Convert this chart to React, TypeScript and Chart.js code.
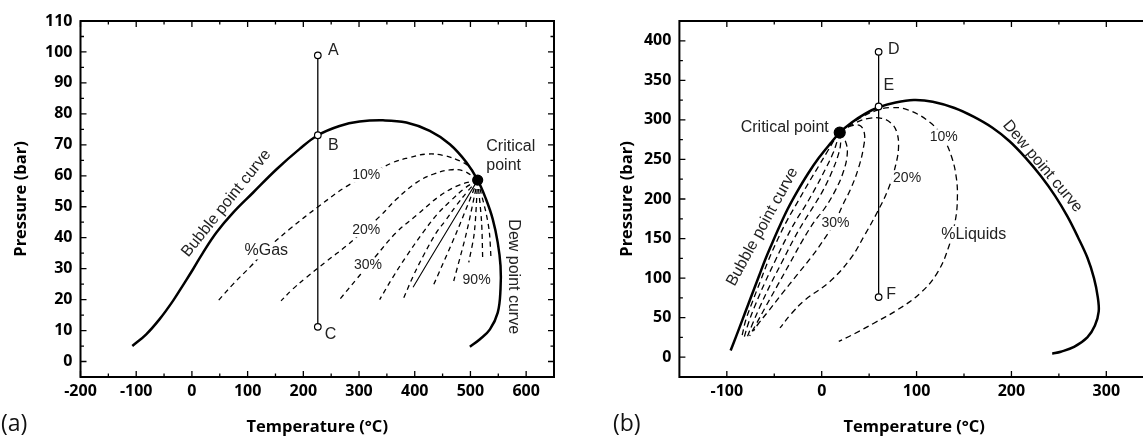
import React, { useEffect, useRef } from "react";
import { Chart, registerables } from "chart.js";
Chart.register(...registerables);

type Pt = [number, number];

// ---------- Panel (a) data ----------
const A_X_TICKS = [-200, -100, 0, 100, 200, 300, 400, 500, 600];
const A_X_MINOR = [-150, -50, 50, 150, 250, 350, 450, 550];
const A_Y_TICKS = [0, 10, 20, 30, 40, 50, 60, 70, 80, 90, 100, 110];
const A_Y_MINOR = [5, 15, 25, 35, 45, 55, 65, 75, 85, 95, 105];

const A_ENVELOPE: Pt[] = [[-107, 5], [-82, 8.8], [-58, 13.7], [-34, 19.6], [-13, 25.5], [2, 29.8], [20, 35.2], [44, 41.7], [74, 48.1], [110, 54.6], [152, 62.1], [193, 68.6], [226, 73.1], [265, 76.1], [301, 77.5], [343, 77.9], [385, 77.2], [427, 74.5], [463, 70.2], [493, 64.3], [513, 58.6], [528, 52.4], [540, 46], [549, 38.4], [554, 30.9], [554, 23.4], [549, 15.8], [535, 10.4], [517, 7.2], [499, 4.8]];
const A_Q10: Pt[] = [[513, 58.6], [499, 62.7], [481, 64.8], [451, 66.6], [421, 67], [391, 65.9], [361, 64.3], [313, 59.8], [277, 56.5], [229, 50.3], [175, 42.7], [133, 36], [107, 31], [74, 25], [47, 19.6]];
const A_Q20: Pt[] = [[513, 58.6], [487, 61.6], [463, 61.9], [433, 60.5], [403, 57.8], [367, 52.4], [338, 47], [313, 43], [277, 37.3], [241, 32.3], [205, 27.1], [181, 23.4], [160, 19.6]];
const A_Q30: Pt[] = [[513, 58.6], [480, 57], [445, 53.5], [405, 47.5], [367, 41.7], [330, 34], [295, 26.5], [265, 20]];
const A_Q40: Pt[] = [[513, 58.6], [490, 56], [465, 52], [440, 47.5], [415, 41.7], [385, 34], [360, 27], [337, 20]];
const A_Q50: Pt[] = [[513, 58.6], [495, 55], [475, 50.5], [455, 45.5], [439, 41.7], [415, 34], [397, 27.5], [379, 20]];
const A_Q60: Pt[] = [[513, 58.6], [456, 41.7], [397, 24]];
const A_Q70: Pt[] = [[513, 58.6], [475, 41.7], [433, 24.4]];
const A_Q80: Pt[] = [[513, 58.6], [493, 41.7], [470, 26]];
const A_Q90: Pt[] = [[513, 58.6], [507, 41.7], [497, 32]];
const A_Q95: Pt[] = [[513, 58.6], [520, 45], [522, 33]];
const A_Q99: Pt[] = [[513, 58.6], [528, 48], [534, 41.7], [537, 33]];
const A_PATH: Pt[] = [[226, 98.9], [226, 11.2]];
const A_OPEN_POINTS: Pt[] = [[226, 98.9], [226, 73.1], [226, 11.2]];
const A_CRITICAL: Pt[] = [[513, 58.6]];

// ---------- Panel (b) data ----------
const B_X_TICKS = [-100, 0, 100, 200, 300];
const B_X_MINOR = [-50, 50, 150, 250];
const B_Y_TICKS = [0, 50, 100, 150, 200, 250, 300, 350, 400];
const B_Y_MINOR = [25, 75, 125, 175, 225, 275, 325, 375];

const B_ENVELOPE: Pt[] = [[-96, 8.5], [-90, 27], [-84, 46], [-78, 65], [-72, 84], [-66, 103], [-60, 122], [-53, 142], [-45, 164], [-36, 187], [-26, 209], [-15, 231], [-3, 252], [9, 270], [19, 284], [32, 297], [46, 308], [60, 316], [78, 322], [97, 325], [117, 323], [140, 315], [160, 304], [180, 290], [198, 273], [215, 252], [231, 229], [246, 204], [259, 178], [270, 152], [280, 126], [287, 100], [291, 76], [292, 58], [288, 40], [280, 25], [266, 13], [252, 7], [243, 4.5]];
const B_Q10: Pt[] = [[19, 284], [40, 302], [58, 312], [72, 315.5], [90, 313], [114, 297], [128, 277], [137, 253], [142, 226], [143, 200], [141, 174], [134, 140], [122, 107], [104, 81], [80, 60], [55, 43], [35, 30], [18, 20]];
const B_Q20: Pt[] = [[19, 284], [35, 296], [50, 302], [63, 302], [73, 296], [79, 285], [81, 266], [78, 243], [70, 212], [58, 182], [46, 156], [30, 124], [8, 95], [-18, 72], [-32, 55], [-44, 37]];
const B_Q30: Pt[] = [[19, 284], [30, 292], [40, 293], [45, 283], [44, 265], [39, 240], [31, 214], [22, 192], [14, 171], [3, 150], [-10, 128], [-26, 104], [-42, 80], [-57, 57], [-67, 42], [-72, 33]];
const B_Q40: Pt[] = [[19, 284], [25, 273], [27, 258], [23, 235], [14, 210], [3, 188], [-8, 171], [-20, 148], [-33, 120], [-46, 92], [-59, 64], [-69, 42], [-76, 27]];
const B_Q50: Pt[] = [[19, 284], [20, 272], [18, 258], [11, 235], [1, 210], [-9, 190], [-19, 171], [-30, 148], [-42, 120], [-54, 92], [-65, 64], [-73, 42], [-79, 24]];
const B_Q60: Pt[] = [[19, 284], [16, 272], [12, 258], [4, 238], [-6, 215], [-17, 192], [-27, 173], [-38, 149], [-49, 122], [-60, 94], [-70, 66], [-77, 44], [-82, 24]];
const B_Q70: Pt[] = [[19, 284], [13, 274], [6, 260], [-3, 242], [-14, 220], [-25, 197], [-36, 174], [-46, 150], [-56, 123], [-65, 95], [-74, 67], [-80, 47], [-84, 27]];
const B_PATH: Pt[] = [[60, 386], [60, 76]];
const B_OPEN_POINTS: Pt[] = [[60, 386], [60, 317], [60, 76]];
const B_CRITICAL: Pt[] = [[19, 284]];

// ---------- annotation text (data coordinates) ----------
type Label = { text: string; x: number; y: number; size: number; rot?: number; align?: CanvasTextAlign; box?: boolean };
const A_LABELS: Label[] = [
  { text: "A", x: 254, y: 100.3, size: 16 },
  { text: "B", x: 254, y: 69.6, size: 16 },
  { text: "C", x: 249, y: 8.8, size: 16 },
  { text: "Critical", x: 528.5, y: 69.4, size: 16, align: "left" },
  { text: "point", x: 528.5, y: 63.4, size: 16, align: "left" },
  { text: "10%", x: 313, y: 60.2, size: 14, box: true },
  { text: "20%", x: 313, y: 42.6, size: 14, box: true },
  { text: "30%", x: 316, y: 31, size: 14, box: true },
  { text: "90%", x: 511, y: 26.3, size: 14, box: true },
  { text: "%Gas", x: 133.5, y: 35.8, size: 16, box: true },
  { text: "Bubble point curve", x: 61.8, y: 51.1, size: 16, rot: -51.3 },
  { text: "Dew point curve", x: 577.6, y: 27.4, size: 16, rot: 90 },
];
const B_LABELS: Label[] = [
  { text: "D", x: 76, y: 388.6, size: 16 },
  { text: "E", x: 70.7, y: 343.2, size: 16 },
  { text: "F", x: 73.3, y: 79.3, size: 16 },
  { text: "Critical point", x: -39, y: 290.5, size: 16 },
  { text: "10%", x: 128.7, y: 278.4, size: 14, box: true },
  { text: "20%", x: 90, y: 226.6, size: 14, box: true },
  { text: "30%", x: 14.6, y: 169.8, size: 14, box: true },
  { text: "%Liquids", x: 160.2, y: 155, size: 16, box: true },
  { text: "Bubble point curve", x: -62.5, y: 164.8, size: 16, rot: -61.3 },
  { text: "Dew point curve", x: 232.8, y: 241.3, size: 16, rot: 50 },
];

const AXIS_FONT = '"Open Sans", "DejaVu Sans", sans-serif';
const TEXT_FONT = '"Liberation Sans", Arial, sans-serif';

const toXY = (pts: Pt[]) => pts.map(([x, y]) => ({ x, y }));

function lineDs(pts: Pt[], width: number, dash: number[] = [], tension = 0.4) {
  return {
    data: toXY(pts), showLine: true, pointRadius: 0, borderColor: "#000", borderWidth: width,
    borderDash: dash, tension, fill: false, order: 1, borderCapStyle: "butt",
  };
}
function pointDs(pts: Pt[], r: number, fill: string) {
  return {
    data: toXY(pts), showLine: false, pointRadius: r, pointBackgroundColor: fill,
    pointBorderColor: "#000", pointBorderWidth: 1.2, order: 0,
  };
}

function framePlugin(xMaj: number[], xMin: number[], yMaj: number[], yMin: number[]) {
  return {
    id: "frame",
    afterDatasetsDraw(chart: any) {
      const { ctx, chartArea } = chart;
      const { left, right, top, bottom } = chartArea;
      const xs = chart.scales.x, ys = chart.scales.y;
      ctx.save();
      ctx.strokeStyle = "#000";
      ctx.lineWidth = 1.3;
      ctx.beginPath();
      const tx = (v: number, len: number) => {
        const p = xs.getPixelForValue(v);
        ctx.moveTo(p, bottom); ctx.lineTo(p, bottom - len);
        ctx.moveTo(p, top); ctx.lineTo(p, top + len);
      };
      const ty = (v: number, len: number) => {
        const p = ys.getPixelForValue(v);
        ctx.moveTo(left, p); ctx.lineTo(left + len, p);
        ctx.moveTo(right, p); ctx.lineTo(right - len, p);
      };
      xMaj.forEach((v) => tx(v, 6));
      xMin.forEach((v) => tx(v, 3.5));
      yMaj.forEach((v) => ty(v, 6));
      yMin.forEach((v) => ty(v, 3.5));
      ctx.stroke();
      ctx.lineWidth = 2;
      ctx.strokeRect(left, top, right - left, bottom - top);
      ctx.restore();
    },
  };
}

function labelPlugin(labels: Label[], tag: string, tagX: number) {
  return {
    id: "labels",
    afterDatasetsDraw(chart: any) {
      const { ctx } = chart;
      const xs = chart.scales.x, ys = chart.scales.y;
      for (const l of labels) {
        const px = xs.getPixelForValue(l.x), py = ys.getPixelForValue(l.y);
        ctx.save();
        ctx.translate(px, py);
        if (l.rot) ctx.rotate((l.rot * Math.PI) / 180);
        ctx.font = `${l.size}px ${TEXT_FONT}`;
        ctx.textAlign = l.align || "center";
        ctx.textBaseline = "middle";
        if (l.box) {
          const w = ctx.measureText(l.text).width;
          ctx.fillStyle = "#fff";
          ctx.fillRect(-w / 2 - 2, -l.size * 0.55, w + 4, l.size * 1.1);
        }
        ctx.fillStyle = "#222";
        ctx.fillText(l.text, 0, 0);
        ctx.restore();
      }
      ctx.save();
      ctx.font = `23px ${AXIS_FONT}`;
      ctx.fillStyle = "#111";
      ctx.textAlign = "left";
      ctx.textBaseline = "middle";
      ctx.fillText(tag, tagX, 424);
      ctx.restore();
    },
  };
}

function axisCfg(min: number, max: number, ticks: number[], fit: (s: any) => void, title: string, titlePad: any, tickPad: number) {
  return {
    type: "linear", min, max,
    grid: { display: false, drawTicks: false, tickLength: 0 },
    border: { display: false },
    ticks: { font: { family: AXIS_FONT, size: 16, weight: "bold" }, color: "#000", padding: tickPad, maxRotation: 0, autoSkip: false },
    afterBuildTicks: (s: any) => { s.ticks = ticks.map((v) => ({ value: v })); },
    afterFit: fit,
    title: { display: true, text: title, color: "#000", font: { family: AXIS_FONT, size: 16.5, weight: "bold" }, padding: titlePad },
  };
}

function makeConfig(p: {
  datasets: any[]; xMin: number; xMax: number; yMin: number; yMax: number;
  xT: number[]; xM: number[]; yT: number[]; yM: number[];
  yWidth: number; rightPad: number; yTitlePad: number; labels: Label[]; tag: string; tagX: number;
}) {
  return {
    type: "scatter",
    data: { datasets: p.datasets },
    options: {
      animation: false, responsive: false, events: [],
      layout: { padding: { left: 0, top: 21, right: p.rightPad, bottom: 0 } },
      plugins: { legend: { display: false }, tooltip: { enabled: false } },
      scales: {
        x: axisCfg(p.xMin, p.xMax, p.xT, (s: any) => { s.height = 64; }, "Temperature (°C)", { top: 0, bottom: 4 }, 5),
        y: axisCfg(p.yMin, p.yMax, p.yT, (s: any) => { s.width = p.yWidth; }, "Pressure (bar)", { top: p.yTitlePad, bottom: 0 }, 8),
      },
    },
    plugins: [labelPlugin(p.labels, p.tag, p.tagX), framePlugin(p.xT, p.xM, p.yT, p.yM)],
  };
}

function Panel({ left, width, cfg }: { left: number; width: number; cfg: () => any }) {
  const ref = useRef<HTMLCanvasElement | null>(null);
  useEffect(() => {
    if (!ref.current) return;
    const chart = new Chart(ref.current, cfg());
    return () => chart.destroy();
  }, []);
  return (
    <canvas ref={ref} width={width} height={441}
      style={{ position: "absolute", left, top: 0, width, height: 441, display: "block" }} />
  );
}

const DASH_W = 1.3;

const cfgA = () => makeConfig({
  datasets: [
    pointDs(A_OPEN_POINTS, 3.3, "#fff"),
    pointDs(A_CRITICAL, 5, "#000"),
    lineDs(A_ENVELOPE, 2.5),
    lineDs(A_PATH, 1.3, [], 0),
    lineDs(A_Q10, DASH_W, [5, 4]),
    lineDs(A_Q20, DASH_W, [5, 4]),
    lineDs(A_Q30, DASH_W, [5, 4]),
    lineDs(A_Q40, DASH_W, [5, 4]),
    lineDs(A_Q50, DASH_W, [5, 4]),
    lineDs(A_Q60, 1.1, [], 0.3),
    lineDs(A_Q70, DASH_W, [5, 4], 0.3),
    lineDs(A_Q80, DASH_W, [5, 4], 0.3),
    lineDs(A_Q90, DASH_W, [5, 4], 0.3),
    lineDs(A_Q95, DASH_W, [5, 4], 0.3),
    lineDs(A_Q99, DASH_W, [5, 4], 0.3),
  ],
  xMin: -200, xMax: 650, yMin: -5, yMax: 110,
  xT: A_X_TICKS, xM: A_X_MINOR, yT: A_Y_TICKS, yM: A_Y_MINOR,
  yWidth: 80.5, rightPad: 16, yTitlePad: 11.4, labels: A_LABELS, tag: "(a)", tagX: 1,
});

const cfgB = () => makeConfig({
  datasets: [
    pointDs(B_OPEN_POINTS, 3.3, "#fff"),
    pointDs(B_CRITICAL, 5.5, "#000"),
    lineDs(B_ENVELOPE, 2.5, [], 0.35),
    lineDs(B_PATH, 1.3, [], 0),
    lineDs(B_Q10, DASH_W, [6, 4]),
    lineDs(B_Q20, DASH_W, [6, 4]),
    lineDs(B_Q30, DASH_W, [6, 4]),
    lineDs(B_Q40, DASH_W, [6, 4]),
    lineDs(B_Q50, DASH_W, [6, 4]),
    lineDs(B_Q60, DASH_W, [6, 4]),
    lineDs(B_Q70, DASH_W, [6, 4]),
  ],
  xMin: -150, xMax: 345, yMin: -25, yMax: 425,
  xT: B_X_TICKS, xM: B_X_MINOR, yT: B_Y_TICKS, yM: B_Y_MINOR,
  yWidth: 99.4, rightPad: 31, yTitlePad: 37, labels: B_LABELS, tag: "(b)", tagX: 33,
});

export default function App() {
  return (
    <div style={{ position: "fixed", left: 0, top: 0, width: 1143, height: 441, overflow: "hidden", background: "#fff" }}>
      <Panel left={0} width={570} cfg={cfgA} />
      <Panel left={580} width={600} cfg={cfgB} />
    </div>
  );
}
